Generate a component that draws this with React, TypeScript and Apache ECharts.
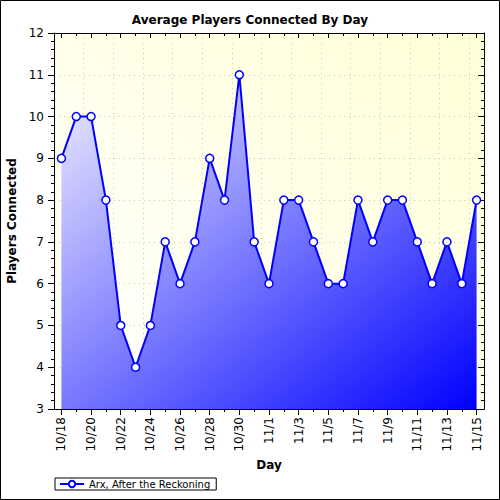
import { useEffect, useRef } from 'react'
import * as echarts from 'echarts'

// days shown on the x axis
const days = [
  '10/18', '10/19', '10/20', '10/21', '10/22', '10/23', '10/24', '10/25', '10/26', '10/27',
  '10/28', '10/29', '10/30', '10/31', '11/1', '11/2', '11/3', '11/4', '11/5', '11/6',
  '11/7', '11/8', '11/9', '11/10', '11/11', '11/12', '11/13', '11/14', '11/15',
]

// average players connected per day
const players = [
  9, 10, 10, 8, 5, 4, 5, 7, 6, 7,
  9, 8, 11, 7, 6, 8, 8, 7, 6, 6,
  8, 7, 8, 8, 7, 6, 7, 6, 8,
]

const seriesName = 'Arx, After the Reckoning'
const yMin = 3
const yMax = 12

const FONT = 'DejaVu Sans'

export default function App() {
  const ref = useRef<HTMLDivElement>(null)

  useEffect(() => {
    if (!ref.current) return
    const chart = echarts.init(ref.current, undefined, { renderer: 'svg' })

    const baseX = {
      type: 'category' as const,
      data: days,
      boundaryGap: true,
      axisLine: { show: true, lineStyle: { color: '#000', width: 1 } },
      splitLine: { show: false },
      axisLabel: { show: false },
    }

    const option: echarts.EChartsOption = {
      animation: false,
      backgroundColor: '#fff',
      title: {
        text: 'Average Players Connected By Day',
        left: 'center',
        top: 9,
        textStyle: { fontFamily: FONT, fontSize: 12, fontWeight: 'bold', color: '#000' },
      },
      grid: {
        left: 54,
        right: 16,
        top: 33,
        bottom: 91,
        outerBoundsMode: 'none',
        show: true,
        borderWidth: 0,
        backgroundColor: new echarts.graphic.LinearGradient(0, 1, 1, 0, [
          { offset: 0, color: '#ffffff' },
          { offset: 1, color: '#ffffd6' },
        ]),
      } as any,
      legend: {
        left: 55,
        top: 478,
        orient: 'horizontal',
        padding: [1, 6, 1, 4],
        itemGap: 4,
        itemWidth: 24,
        itemHeight: 8,
        borderColor: '#000',
        borderWidth: 1,
        borderRadius: 0,
        backgroundColor: '#fff',
        textStyle: { fontFamily: FONT, fontSize: 10, color: '#000' },
        data: [seriesName],
      },
      xAxis: [
        {
          ...baseX,
          position: 'bottom',
          name: 'Day',
          nameLocation: 'middle',
          nameGap: 49,
          nameTextStyle: { fontFamily: FONT, fontSize: 12, fontWeight: 'bold', color: '#000' },
          axisTick: { show: true, alignWithLabel: true, interval: 1, length: 6, lineStyle: { color: '#000' } },
          axisLabel: {
            show: true,
            interval: 1,
            rotate: 90,
            margin: 8,
            fontFamily: FONT,
            fontSize: 12,
            color: '#000',
          },
          splitLine: {
            show: true,
            interval: 1,
            lineStyle: { color: '#c8c8c8', type: [1, 4] },
          },
        },
        {
          ...baseX,
          position: 'bottom',
          axisTick: { show: true, alignWithLabel: true, interval: 0, length: 3, lineStyle: { color: '#000' } },
        },
        {
          ...baseX,
          position: 'top',
          axisTick: { show: true, inside: true, alignWithLabel: true, interval: 1, length: 5, lineStyle: { color: '#000' } },
        },
        {
          ...baseX,
          position: 'top',
          axisTick: { show: true, inside: true, alignWithLabel: true, interval: 0, length: 3, lineStyle: { color: '#000' } },
        },
      ],
      yAxis: [
        {
          type: 'value',
          position: 'left',
          min: yMin,
          max: yMax,
          interval: 1,
          name: 'Players Connected',
          nameLocation: 'middle',
          nameGap: 32,
          nameTextStyle: { fontFamily: FONT, fontSize: 12, fontWeight: 'bold', color: '#000' },
          axisLine: { show: true, lineStyle: { color: '#000' } },
          axisTick: { show: true, length: 6, lineStyle: { color: '#000' } },
          minorTick: { show: true, splitNumber: 5, length: 3, lineStyle: { color: '#000' } },
          axisLabel: { fontFamily: FONT, fontSize: 12, color: '#000', margin: 10 },
          splitLine: { show: true, lineStyle: { color: '#c8c8c8', type: [1, 4] } },
        },
        {
          type: 'value',
          position: 'right',
          min: yMin,
          max: yMax,
          interval: 1,
          axisLine: { show: true, lineStyle: { color: '#000' } },
          axisTick: { show: true, inside: true, length: 6, lineStyle: { color: '#000' } },
          minorTick: { show: true, splitNumber: 5, length: 3, lineStyle: { color: '#000' } },
          axisLabel: { show: false },
          splitLine: { show: false },
        },
      ],
      series: [
        {
          type: 'line',
          name: seriesName,
          data: players,
          xAxisIndex: 0,
          yAxisIndex: 0,
          symbol: 'circle',
          symbolSize: 8,
          showAllSymbol: true,
          lineStyle: { color: '#0000ff', width: 2 },
          itemStyle: { color: '#ffffff', borderColor: '#0000ff', borderWidth: 1.5 },
          areaStyle: {
            origin: 'start',
            opacity: 1,
            color: new echarts.graphic.LinearGradient(0, 0, 1, 1, [
              { offset: 0, color: '#f0f0ff' },
              { offset: 1, color: '#0000ff' },
            ]),
          },
        },
      ],
      graphic: [
        {
          type: 'rect',
          shape: { x: 0.5, y: 0.5, width: 499, height: 499 },
          style: { fill: 'none', stroke: '#000', lineWidth: 1 },
          silent: true,
        },
      ],
    }

    chart.setOption(option)
    return () => chart.dispose()
  }, [])

  return (
    <div
      ref={ref}
      style={{ position: 'fixed', left: 0, top: 0, width: 500, height: 500 }}
    />
  )
}
